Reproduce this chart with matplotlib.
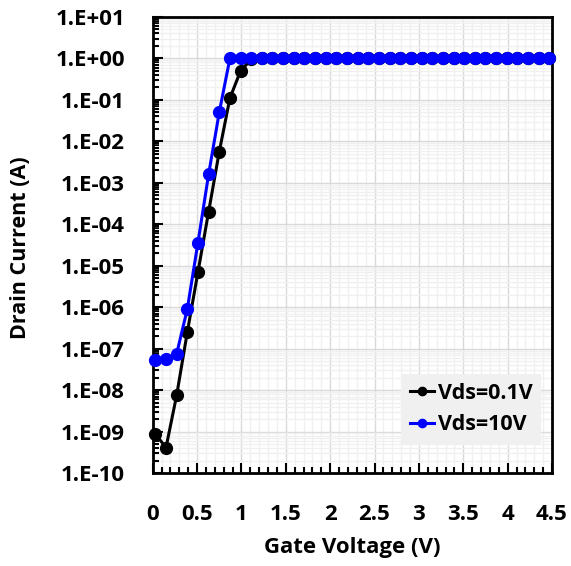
import matplotlib.pyplot as plt
from matplotlib.ticker import FixedLocator, MultipleLocator, LogLocator, NullFormatter

plt.rcParams['font.family'] = ['Open Sans', 'DejaVu Sans']
plt.rcParams['font.weight'] = 'bold'

# Gate voltage sweep (V)
vg = [0.03, 0.15, 0.27, 0.39, 0.51, 0.63, 0.75, 0.87, 0.99, 1.11,
      1.23, 1.35, 1.47, 1.59, 1.71, 1.83, 1.95, 2.07, 2.19, 2.31,
      2.43, 2.55, 2.67, 2.79, 2.91, 3.03, 3.15, 3.27, 3.39, 3.51,
      3.63, 3.75, 3.87, 3.99, 4.11, 4.23, 4.35, 4.47]

# Drain current (A), Vds = 0.1 V
id_low = [8.7e-10, 4.1e-10, 7.5e-9, 2.5e-7, 7.0e-6, 2.0e-4, 5.6e-3, 0.11, 0.5, 0.95,
          1, 1, 1, 1, 1, 1, 1, 1, 1, 1,
          1, 1, 1, 1, 1, 1, 1, 1, 1, 1,
          1, 1, 1, 1, 1, 1, 1, 1]

# Drain current (A), Vds = 10 V
id_high = [5.4e-8, 5.5e-8, 7.5e-8, 9.0e-7, 3.6e-5, 1.6e-3, 0.05, 1, 1, 1,
           1, 1, 1, 1, 1, 1, 1, 1, 1, 1,
           1, 1, 1, 1, 1, 1, 1, 1, 1, 1,
           1, 1, 1, 1, 1, 1, 1, 1]

y_ticks = [1e-10, 1e-9, 1e-8, 1e-7, 1e-6, 1e-5, 1e-4, 1e-3, 1e-2, 1e-1, 1e0, 1e1]
y_labels = ['1.E-10', '1.E-09', '1.E-08', '1.E-07', '1.E-06', '1.E-05',
            '1.E-04', '1.E-03', '1.E-02', '1.E-01', '1.E+00', '1.E+01']
x_ticks = [0, 0.5, 1, 1.5, 2, 2.5, 3, 3.5, 4, 4.5]
x_labels = ['0', '0.5', '1', '1.5', '2', '2.5', '3', '3.5', '4', '4.5']

fig = plt.figure(figsize=(5.71, 5.66), dpi=100)
ax = fig.add_axes([152.7 / 571, 1 - 473 / 566, (552 - 152.7) / 571, (473 - 17) / 566])

ax.set_yscale('log')
ax.set_xlim(0, 4.5)
ax.set_ylim(1e-10, 1e1)

ax.plot(vg, id_low, color='black', lw=2.2, marker='o', ms=8.5, label='Vds=0.1V', clip_on=False, zorder=3)
ax.plot(vg, id_high, color='#0000ff', lw=2.2, marker='o', ms=8.5, label='Vds=10V', clip_on=False, zorder=4)

ax.yaxis.set_major_locator(FixedLocator(y_ticks))
ax.set_yticklabels(y_labels)
ax.yaxis.set_minor_locator(LogLocator(base=10, subs=range(2, 10), numticks=20))
ax.yaxis.set_minor_formatter(NullFormatter())
ax.set_xticks(x_ticks)
ax.set_xticklabels(x_labels)
ax.xaxis.set_minor_locator(MultipleLocator(0.1))

ax.grid(which='major', color='#d9d9d9', lw=1)
ax.grid(which='minor', color='#f0f0f0', lw=1)
ax.set_axisbelow(True)

ax.tick_params(which='both', direction='in', width=1.5, labelsize=16)
ax.tick_params(which='major', length=7)
ax.tick_params(which='minor', length=4)
ax.tick_params(axis='x', which='major', pad=22)
ax.tick_params(axis='y', which='major', pad=20)
for s in ax.spines.values():
    s.set_linewidth(2)
    s.set_color('black')

ax.set_xlabel('Gate Voltage (V)', fontsize=16, fontweight='bold', va='center')
ax.set_ylabel('Drain Current (A)', fontsize=15.5, fontweight='bold', va='center')
ax.xaxis.set_label_coords(0.5, -0.164)
ax.yaxis.set_label_coords(-0.332, 0.494)

leg = ax.legend(loc='lower right', bbox_to_anchor=(1.0, 0.04), fontsize=15.5, frameon=True,
                fancybox=False, handlelength=1.1, handletextpad=0.2, borderpad=0.4,
                labelspacing=0.5, markerscale=0.7)
leg.get_frame().set_facecolor('#f0f0f0')
leg.get_frame().set_edgecolor('none')
leg.get_frame().set_alpha(1)
for t in leg.get_texts():
    t.set_fontweight('bold')

plt.savefig('out.png', dpi=100)
